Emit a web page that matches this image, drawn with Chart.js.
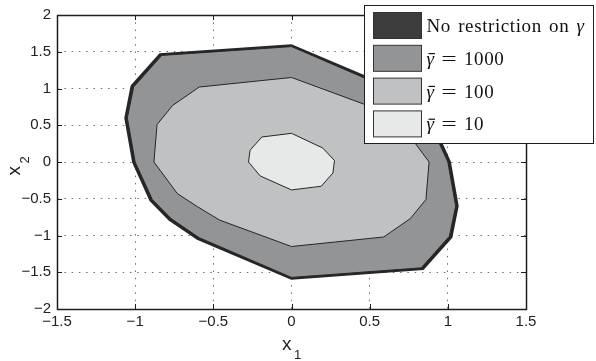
<!DOCTYPE html>
<html>
<head>
<meta charset="utf-8">
<script src="https://cdn.jsdelivr.net/npm/chart.js@4.4.1/dist/chart.umd.min.js"></script>
<style>
  html, body { margin: 0; padding: 0; background: #fff; }
</style>
</head>
<body>
<canvas id="regionChart" width="596" height="361"></canvas>
<script>
// Region vertices (x1, x2), counter-clockwise from the top
const noRestrictX = [0, -0.84, -1.02, -1.06, -1.01, -0.90, -0.78, -0.60, 0, 0.84, 1.02, 1.06, 1.01, 0.90, 0.78, 0.60];
const noRestrictY = [1.58, 1.46, 1.03, 0.60, 0, -0.52, -0.78, -1.04, -1.58, -1.45, -1.02, -0.60, 0, 0.52, 0.78, 1.04];

const gamma1000X = [0, -0.83, -1.01, -1.05, -1.0, -0.89, -0.77, -0.59, 0, 0.83, 1.01, 1.05, 1.0, 0.89, 0.77, 0.59];
const gamma1000Y = [1.57, 1.45, 1.02, 0.60, 0, -0.51, -0.77, -1.03, -1.57, -1.44, -1.01, -0.60, 0, 0.51, 0.77, 1.03];

const gamma100X = [0, -0.59, -0.76, -0.86, -0.88, -0.73, -0.60, -0.46, 0, 0.59, 0.76, 0.86, 0.88, 0.73, 0.60, 0.46];
const gamma100Y = [1.15, 1.02, 0.77, 0.51, 0, -0.43, -0.61, -0.79, -1.15, -1.02, -0.77, -0.51, 0, 0.43, 0.61, 0.79];

const gamma10X = [0, -0.19, -0.265, -0.275, -0.20, 0, 0.19, 0.265, 0.275, 0.20];
const gamma10Y = [0.39, 0.34, 0.16, 0, -0.19, -0.38, -0.33, -0.15, 0.02, 0.19];

const seriesNames = ['No restriction on \u03b3', '\u03b3\u0304 = 1000', '\u03b3\u0304 = 100', '\u03b3\u0304 = 10'];

const xTicks = [-1.5, -1, -0.5, 0, 0.5, 1, 1.5];
const xTickLabels = ['\u22121.5', '\u22121', '\u22120.5', '0', '0.5', '1', '1.5'];
const yTicks = [-2, -1.5, -1, -0.5, 0, 0.5, 1, 1.5, 2];
const yTickLabels = ['\u22122', '\u22121.5', '\u22121', '\u22120.5', '0', '0.5', '1', '1.5', '2'];

const sans = "'Liberation Sans', Arial, sans-serif";
const serif = "'Liberation Serif', 'Times New Roman', serif";
const tickFont = { family: sans, size: 15 };

// close the polygon by repeating the first vertex
function toPoints(xs, ys) {
    const pts = xs.map((x, i) => ({ x: x, y: ys[i] }));
    pts.push({ x: xs[0], y: ys[0] });
    return pts;
}

// box around the axes with inward tick marks (matlab style)
const axesBox = {
    id: 'axesBox',
    afterDatasetsDraw(chart) {
        const { ctx, chartArea: a, scales } = chart;
        ctx.save();
        ctx.strokeStyle = '#1e1e1e';
        ctx.lineWidth = 1;
        ctx.beginPath();
        xTicks.forEach(v => {
            const px = Math.round(scales.x.getPixelForValue(v)) + 0.5;
            ctx.moveTo(px, a.bottom); ctx.lineTo(px, a.bottom - 5);
            ctx.moveTo(px, a.top); ctx.lineTo(px, a.top + 5);
        });
        yTicks.forEach(v => {
            const py = Math.round(scales.y.getPixelForValue(v)) + 0.5;
            ctx.moveTo(a.left, py); ctx.lineTo(a.left + 5, py);
            ctx.moveTo(a.right, py); ctx.lineTo(a.right - 5, py);
        });
        ctx.stroke();
        ctx.lineWidth = 1.5;
        ctx.strokeRect(Math.round(a.left) + 0.5, Math.round(a.top) + 0.5,
            Math.round(a.right - a.left), Math.round(a.bottom - a.top));
        ctx.restore();
    }
};

// axis titles x1 / x2 with a proper lowered subscript
const axisTitles = {
    id: 'axisTitles',
    afterDraw(chart) {
        const { ctx, chartArea: a } = chart;
        const cx = (a.left + a.right) / 2, cy = (a.top + a.bottom) / 2;
        ctx.save();
        ctx.fillStyle = '#222';
        ctx.textBaseline = 'alphabetic';
        ctx.textAlign = 'left';
        ctx.font = '19px ' + sans;
        ctx.fillText('x', cx - 9.5, a.bottom + 41);
        ctx.font = '13px ' + sans;
        ctx.fillText('1', cx + 2.5, a.bottom + 50);

        ctx.translate(20, cy + 13.5);
        ctx.rotate(-Math.PI / 2);
        ctx.font = '19px ' + sans;
        ctx.fillText('x', 0, 0);
        ctx.font = '13px ' + sans;
        ctx.fillText('2', 12, 9);
        ctx.restore();
    }
};

// draw label text, gamma in italics, combining macron as a bar over it
function drawRich(ctx, text, x, y, size) {
    const chars = Array.from(text);
    for (let i = 0; i < chars.length; i++) {
        const c = chars[i];
        if (c === '\u03b3') {
            ctx.font = 'italic ' + size + 'px ' + serif;
            const w = ctx.measureText(c).width;
            ctx.fillText(c, x, y);
            if (chars[i + 1] === '\u0304') {
                ctx.fillRect(x + 2, y - size * 0.62, w - 1, 1.2);
                i++;
            }
            x += w;
        } else if (c === '=') {
            ctx.font = size + 'px ' + serif;
            ctx.save();
            ctx.scale(1.45, 1);
            ctx.fillText(c, x / 1.45, y);
            ctx.restore();
            x += ctx.measureText(c).width * 1.45;
        } else {
            ctx.font = size + 'px ' + serif;
            ctx.fillText(c, x, y);
            x += ctx.measureText(c).width + (c === ' ' ? 2.5 : 0.6);
        }
    }
}

const legendBox = {
    id: 'legendBox',
    afterDraw(chart) {
        const { ctx, chartArea: a } = chart;
        const left = a.right - 161.5, top = 5.5;
        ctx.save();
        ctx.fillStyle = '#fff';
        ctx.fillRect(left, top, 229, 138);
        ctx.strokeStyle = '#1e1e1e';
        ctx.lineWidth = 1;
        ctx.strokeRect(left, top, 229, 138);
        chart.data.datasets.forEach((ds, i) => {
            const sy = top + 7 + i * 32.8;
            ctx.fillStyle = ds.backgroundColor;
            ctx.fillRect(left + 9, sy, 48, 26);
            ctx.strokeStyle = '#333';
            ctx.strokeRect(left + 9, sy, 48, 26);
            ctx.fillStyle = '#111';
            ctx.textBaseline = 'alphabetic';
            drawRich(ctx, ds.label, left + 62, sy + 19.5, 19);
        });
        ctx.restore();
    }
};

const chart = new Chart(document.getElementById('regionChart'), {
    type: 'line',
    data: {
        datasets: [
            { label: seriesNames[0], data: toPoints(noRestrictX, noRestrictY), order: 4,
              backgroundColor: '#3c3c3c', borderColor: '#262626', borderWidth: 3, fill: 'shape' },
            { label: seriesNames[1], data: toPoints(gamma1000X, gamma1000Y), order: 3,
              backgroundColor: '#939496', borderColor: '#262626', borderWidth: 1, fill: 'shape' },
            { label: seriesNames[2], data: toPoints(gamma100X, gamma100Y), order: 2,
              backgroundColor: '#c0c1c3', borderColor: '#262626', borderWidth: 1, fill: 'shape' },
            { label: seriesNames[3], data: toPoints(gamma10X, gamma10Y), order: 1,
              backgroundColor: '#e7e8e8', borderColor: '#262626', borderWidth: 1, fill: 'shape' }
        ]
    },
    options: {
        responsive: false,
        animation: false,
        layout: { padding: { left: 0, right: 70, top: 14, bottom: 0 } },
        elements: { point: { radius: 0 }, line: { tension: 0, borderJoinStyle: 'miter' } },
        plugins: { legend: { display: false }, tooltip: { enabled: false } },
        scales: {
            x: {
                type: 'linear', min: -1.5, max: 1.5,
                afterBuildTicks: s => { s.ticks = xTicks.map(v => ({ value: v })); },
                afterFit: s => { s.height = 52; },
                ticks: { callback: (v, i) => xTickLabels[i], font: tickFont, color: '#222',
                         padding: 4, maxRotation: 0, autoSkip: false },
                grid: { color: '#6e6e6e', lineWidth: 1, drawTicks: false },
                border: { display: false, dash: [1.5, 5.8] }
            },
            y: {
                type: 'linear', min: -2, max: 2,
                afterBuildTicks: s => { s.ticks = yTicks.map(v => ({ value: v })); },
                afterFit: s => { s.width = 57; },
                ticks: { callback: (v, i) => yTickLabels[i], font: tickFont, color: '#222',
                         padding: 6, autoSkip: false },
                grid: { color: '#6e6e6e', lineWidth: 1, drawTicks: false },
                border: { display: false, dash: [1.5, 5.8] }
            }
        }
    },
    plugins: [axesBox, axisTitles, legendBox]
});
</script>
</body>
</html>
